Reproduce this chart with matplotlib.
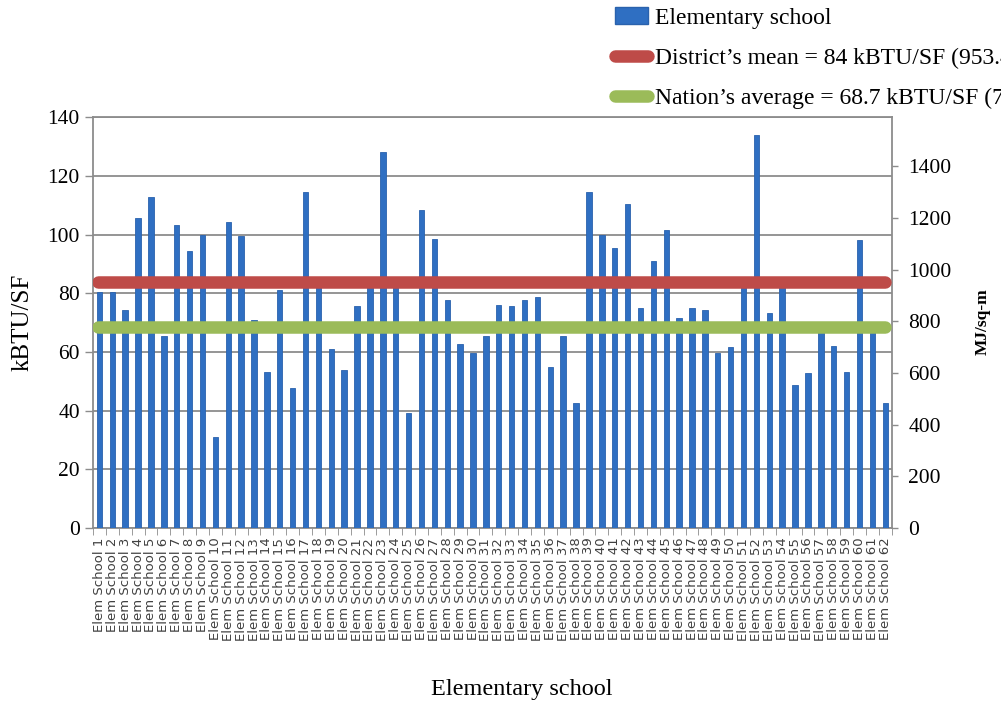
import numpy as np
import matplotlib
matplotlib.use("Agg")
import matplotlib.pyplot as plt
from matplotlib.lines import Line2D
from matplotlib.patches import Patch

# energy use intensity per school, kBTU/SF
schools = [f"Elem School {i}" for i in range(1, 63)]
eui = [80.6, 80.6, 74.5, 105.6, 112.8, 65.5, 103.4, 94.5, 99.9, 31.2,
       104.4, 99.6, 71.1, 53.3, 81.1, 47.9, 114.5, 83.0, 61.2, 53.9,
       75.6, 83.0, 128.4, 83.0, 39.1, 108.5, 98.5, 77.8, 62.8, 59.7,
       65.6, 76.2, 75.6, 77.8, 78.9, 55.0, 65.6, 42.8, 114.5, 99.9,
       95.6, 110.5, 75.0, 91.2, 101.8, 71.7, 75.0, 74.4, 59.7, 61.7,
       83.0, 133.9, 73.3, 83.0, 48.9, 52.8, 67.5, 62.2, 53.3, 98.3,
       68.0, 42.8]
district_mean = 84
nation_avg = 68.7
kbtu_to_mj = 11.35  # kBTU/sq-ft -> MJ/sq-m

plt.rcParams["font.family"] = ["Liberation Serif", "DejaVu Serif"]

fig = plt.figure(figsize=(10.01, 7.04), dpi=100)
ax = fig.add_axes([0.0929, 0.25, 0.7979, 0.5831])
x = np.arange(len(schools))
grid_c = "#8c8c8c"

ax.bar(x, eui, width=0.42, color="#2f6fc2", edgecolor="#2a62ad",
       linewidth=0.6, zorder=3)
ax.plot([x[0] - 0.1, x[-1]], [district_mean] * 2, color="#be4b48",
        lw=9, solid_capstyle="round", zorder=4)
ax.plot([x[0] - 0.1, x[-1]], [nation_avg] * 2, color="#9bbb59",
        lw=9, solid_capstyle="round", zorder=4)

ax.set_xlim(-0.5, len(schools) - 0.5)
ax.set_ylim(0, 140)
ax.set_yticks(range(0, 141, 20))
ax.yaxis.grid(True, color=grid_c, lw=1.3, zorder=1)
ax.tick_params(axis="y", labelsize=15.5, colors=grid_c, labelcolor="black",
               length=6, width=1)
ax.set_xticks(x)
ax.set_xticklabels(schools, rotation=90, fontsize=9.5,
                   family="DejaVu Sans", color="#404040")
ax.set_xticks(np.arange(-0.5, len(schools), 1), minor=True)
ax.tick_params(axis="x", which="major", length=0, pad=7)
ax.tick_params(axis="x", which="minor", length=5, color=grid_c)
for side in ("left", "right", "bottom", "top"):
    ax.spines[side].set_color(grid_c)
    ax.spines[side].set_linewidth(1.3)
ax.set_ylabel("kBTU/SF", fontsize=18, labelpad=10)
fig.text(522 / 1001, 1 - 689 / 704, "Elementary school", ha="center",
         va="center", fontsize=17.5)

ax2 = ax.twinx()
ax2.set_ylim(0, 140 * kbtu_to_mj)
ax2.set_yticks(range(0, 1401, 200))
ax2.tick_params(axis="y", labelsize=15.5, colors=grid_c, labelcolor="black",
                length=4, width=1, pad=8)
for side in ("left", "right", "bottom", "top"):
    ax2.spines[side].set_visible(False)
fig.text(983 / 1001, 1 - 322 / 704, "MJ/sq-m", rotation=90, ha="center",
         va="center", fontsize=12.5, fontweight="bold")

handles = [Patch(facecolor="#2f6fc2", edgecolor="#2a62ad"),
           Line2D([], [], color="#be4b48", lw=9, solid_capstyle="round"),
           Line2D([], [], color="#9bbb59", lw=9, solid_capstyle="round")]
labels = ["Elementary school",
          f"District\u2019s mean = {district_mean} kBTU/SF "
          f"({district_mean * kbtu_to_mj:.1f} MJ/sq-m)",
          f"Nation\u2019s average = {nation_avg} kBTU/SF "
          f"({nation_avg * kbtu_to_mj:.1f} MJ/sq-m)"]
fig.legend(handles, labels, loc="upper left", bbox_to_anchor=(0.605, 1.003),
           frameon=False, fontsize=17, handlelength=1.4, handletextpad=0.3,
           labelspacing=0.79, borderaxespad=0)

fig.savefig("out.png", dpi=100)
